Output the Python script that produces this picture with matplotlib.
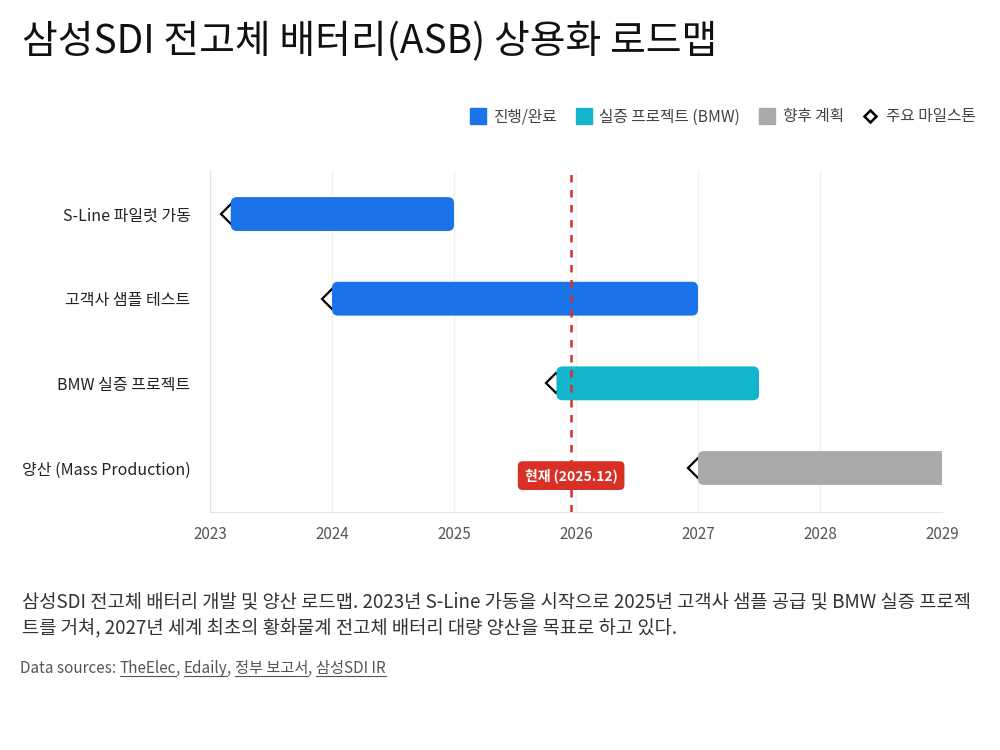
import matplotlib
matplotlib.use("Agg")
import matplotlib.pyplot as plt
from matplotlib.patches import FancyBboxPatch
from matplotlib.lines import Line2D

plt.rcParams["font.family"] = ["Noto Sans CJK KR", "DejaVu Sans"]

# 데이터
tasks = ["S-Line 파일럿 가동", "고객사 샘플 테스트", "BMW 실증 프로젝트", "양산 (Mass Production)"]
starts = [2023.17, 2024.0, 2025.84, 2027.0]
ends = [2025.0, 2027.0, 2027.5, 2029.3]
kinds = ["progress", "progress", "bmw", "plan"]
milestones = [2023.17, 2024.0, 2025.84, 2027.0]
now_x = 2025.96
now_label = "현재 (2025.12)"
years = [2023, 2024, 2025, 2026, 2027, 2028, 2029]

colors = {"progress": "#1a73e8", "bmw": "#12b5cb", "plan": "#aaaaaa"}
legend_names = {"progress": "진행/완료", "bmw": "실증 프로젝트 (BMW)", "plan": "향후 계획"}

fig = plt.figure(figsize=(10, 7.5), dpi=100)
ax = fig.add_axes([0.21, 0.3173, 0.732, 0.456])

bar_h = 0.4
for i, (s, e, k) in enumerate(zip(starts, ends, kinds)):
    box = FancyBboxPatch((s, i - bar_h / 2), e - s, bar_h,
                         boxstyle="round,pad=0,rounding_size=0.05",
                         mutation_aspect=1.43, facecolor=colors[k],
                         edgecolor="none", zorder=3, clip_on=True)
    ax.add_patch(box)

ax.plot(milestones, range(len(milestones)), linestyle="none", marker="D",
        markersize=10, markerfacecolor="white", markeredgecolor="black",
        markeredgewidth=1.6, zorder=2)

ax.axvline(now_x, color="#d93025", linestyle=(0, (3, 3)), linewidth=1.8, zorder=4)
ax.text(now_x, 3.09, now_label, ha="center", va="center", fontsize=10,
        color="white", fontweight="bold", zorder=5,
        bbox=dict(boxstyle="round,pad=0.5,rounding_size=0.35", facecolor="#d93025",
                  edgecolor="none"))

ax.set_xlim(2023, 2029)
ax.set_ylim(3.52, -0.52)
ax.set_xticks(years)
ax.set_xticklabels([str(y) for y in years])
ax.set_yticks(range(len(tasks)))
ax.set_yticklabels(tasks)
ax.tick_params(axis="x", length=0, pad=10, labelsize=11, labelcolor="#555555")
ax.tick_params(axis="y", length=0, pad=14, labelsize=11.5, labelcolor="#222222")
ax.grid(axis="x", color="#f2f2f2", linewidth=1)
ax.set_axisbelow(True)
for side in ["top", "right"]:
    ax.spines[side].set_visible(False)
ax.spines["left"].set_color("#e3e3e3")
ax.spines["bottom"].set_color("#e3e3e3")

# 범례
handles = [Line2D([], [], linestyle="none", marker="s", markersize=12,
                  markerfacecolor=colors[k], markeredgecolor=colors[k])
           for k in ["progress", "bmw", "plan"]]
handles.append(Line2D([], [], linestyle="none", marker="D", markersize=6,
                      markerfacecolor="white", markeredgecolor="black",
                      markeredgewidth=1.8))
labels = [legend_names[k] for k in ["progress", "bmw", "plan"]] + ["주요 마일스톤"]
fig.legend(handles, labels, loc="center right", bbox_to_anchor=(0.99, 0.844),
           ncol=4, frameon=False, fontsize=11.3, handlelength=1.0,
           handletextpad=0.5, columnspacing=1.2, labelcolor="#444444")

fig.text(0.022, 0.944, "삼성SDI 전고체 배터리(ASB) 상용화 로드맵", fontsize=28,
         color="#111111", va="center", ha="left")

fig.text(0.022, 0.198, "삼성SDI 전고체 배터리 개발 및 양산 로드맵. 2023년 S-Line 가동을 시작으로 2025년 고객사 샘플 공급 및 BMW 실증 프로젝",
         fontsize=13.5, color="#333333", va="center", ha="left")
fig.text(0.022, 0.161, "트를 거쳐, 2027년 세계 최초의 황화물계 전고체 배터리 대량 양산을 목표로 하고 있다.",
         fontsize=13.5, color="#333333", va="center", ha="left")

# 출처 (밑줄)
sources = ["TheElec", "Edaily", "정부 보고서", "삼성SDI IR"]
fig.canvas.draw()
renderer = fig.canvas.get_renderer()
x = 0.020
y = 0.109
t = fig.text(x, y, "Data sources: ", fontsize=11, color="#555555", va="center", ha="left")
x = t.get_window_extent(renderer).x1 / fig.bbox.width
for i, name in enumerate(sources):
    t = fig.text(x, y, name, fontsize=11, color="#555555", va="center", ha="left")
    bb = t.get_window_extent(renderer)
    x0 = bb.x0 / fig.bbox.width
    x1 = bb.x1 / fig.bbox.width
    uy = (bb.y0 + 1) / fig.bbox.height
    fig.add_artist(Line2D([x0, x1], [uy, uy], transform=fig.transFigure,
                          color="#555555", linewidth=0.8))
    x = x1
    if i < len(sources) - 1:
        t = fig.text(x, y, ", ", fontsize=11, color="#555555", va="center", ha="left")
        x = t.get_window_extent(renderer).x1 / fig.bbox.width

fig.savefig("out.png", dpi=100)
